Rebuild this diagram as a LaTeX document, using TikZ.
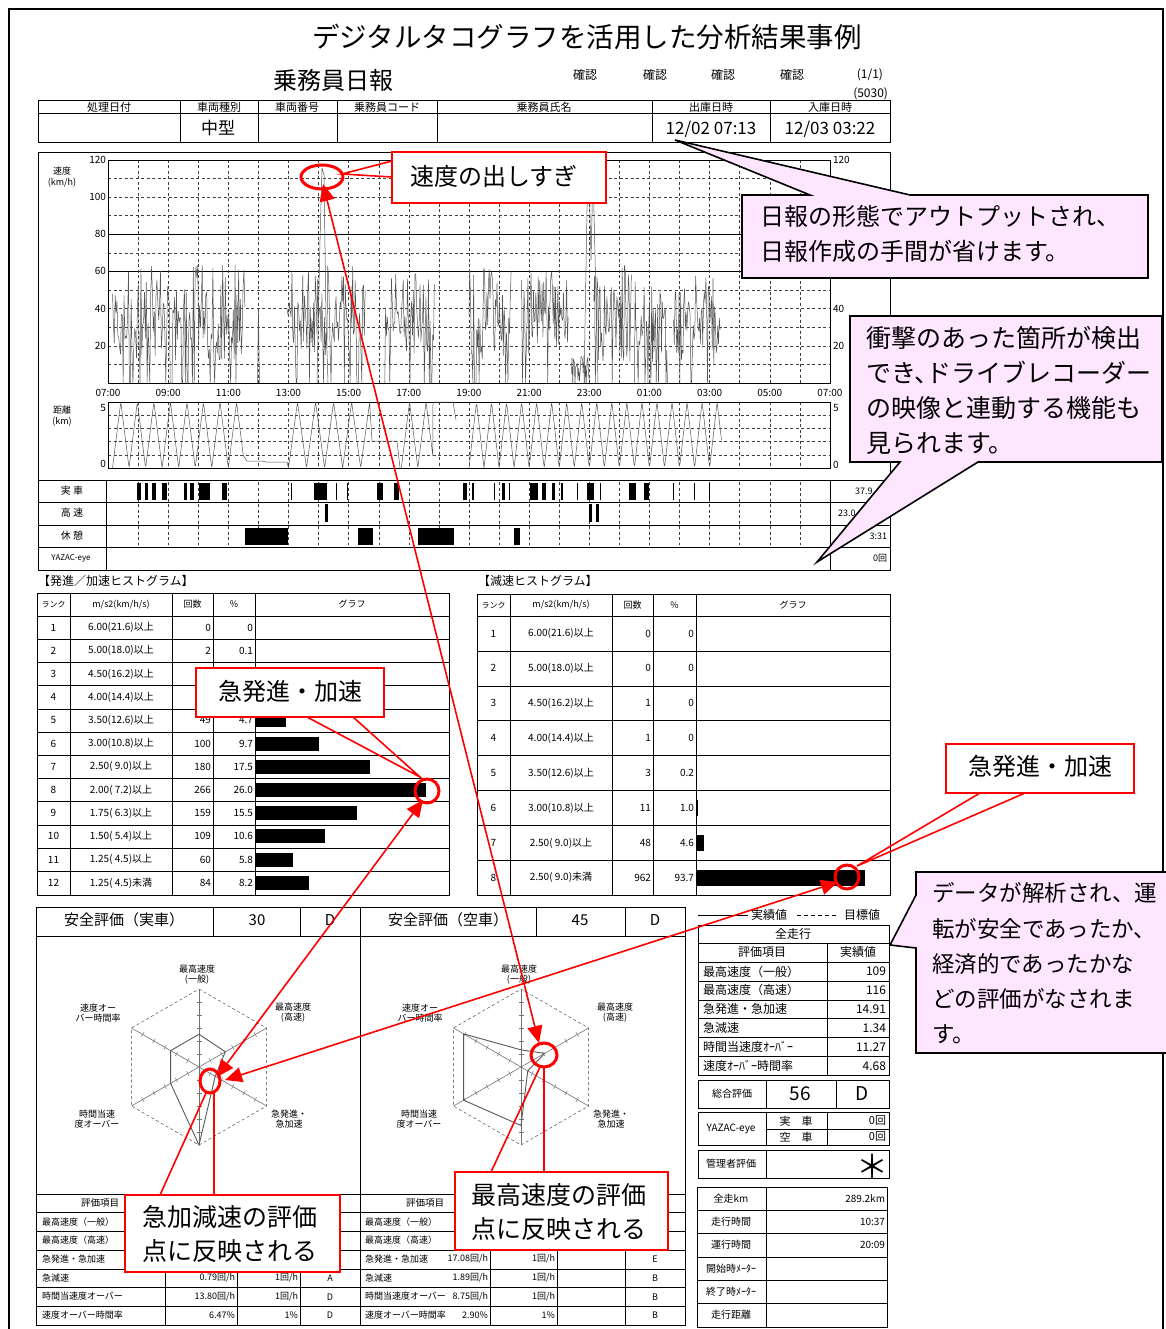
\documentclass[tikz,border=0pt]{standalone}
\usepackage{fontspec}
\setmainfont{Noto Sans CJK JP}
\usetikzlibrary{arrows.meta,calc}
\definecolor{pinkfill}{RGB}{255,230,255}
\definecolor{plotgray}{RGB}{85,85,85}
\newcommand{\myradar}[7]{%
  \begin{scope}[shift={(#1)}]
    \draw[gridd] (-90:78) -- (-30:78) -- (30:78) -- (90:78) -- (150:78) -- (210:78) -- cycle;
    \foreach \a in {-90,-30,30,90,150,210}{%
      \draw[draw=black!55,line width=0.6pt] (0,0) -- (\a:78);
      \foreach \k in {1,...,5}{%
        \draw[draw=black!55,line width=0.5pt] ([shift={({\a+90}:2.5)}]\a:{\k*13}) -- ([shift={({\a-90}:2.5)}]\a:{\k*13});
      }
    }
    \draw[draw=black!65,line width=0.9pt] (-90:{#2*78}) -- (-30:{#3*78}) -- (30:{#4*78}) -- (90:{#5*78}) -- (150:{#6*78}) -- (210:{#7*78}) -- cycle;
  \end{scope}}
\begin{document}
\begin{tikzpicture}[x=1pt,y=-1pt,
  every node/.style={inner sep=0pt,outer sep=0pt},
  fsz/.style={font=\fontsize{#1}{#1}\selectfont},
  frm/.style={draw=black,line width=0.9pt},
  thin/.style={draw=black,line width=0.5pt},
  gridd/.style={draw=black!75,line width=0.45pt,dash pattern=on 3pt off 2.5pt},
  spd/.style={draw=plotgray,line width=0.5pt,line join=round},
  redbox/.style={draw=red,line width=1.6pt,fill=white},
  redln/.style={draw=red,line width=1.6pt},
  redring/.style={draw=red,line width=3pt},
  pinkbox/.style={draw=black,line width=1.6pt,fill=pinkfill,line join=miter},
  dbl/.style={draw=red,line width=1.6pt,{Triangle[length=17pt,width=15pt]}-{Triangle[length=17pt,width=15pt]}},
]
\useasboundingbox (0,0) rectangle (1165,1329);
\fill[white] (0,0) rectangle (1165,1329);
\draw[line width=1.4pt] (9,1335) -- (9,9) -- (1163,9) -- (1163,1335);

% ---------- title and header ----------
\node[fsz=27.5] (title) at (587,37) {デジタルタコグラフを活用した分析結果事例};
\node[fsz=24] (nippo) at (333,80) {乗務員日報};
\foreach \x [count=\i] in {585,655,723,792} \node[fsz=12] (kak\i) at (\x,75) {確認};
\node[fsz=12,anchor=east] (page) at (883,75) {(1/1)};
\node[fsz=12,anchor=east] (code) at (888,94) {(5030)};

\draw[frm] (38,100) rectangle (890,142);
\draw[thin] (38,113) -- (890,113);
\foreach \x in {180,258,337,437,652,770} \draw[thin] (\x,100) -- (\x,142);
\foreach \x/\t [count=\i] in {109/処理日付,219/車両種別,297/車両番号,387/乗務員コード,544/乗務員氏名,711/出庫日時,830/入庫日時}
  \node[fsz=11] (hd\i) at (\x,107) {\t};
\node[fsz=17] (vtype) at (218,128) {中型};
\node[fsz=17] (dep) at (711,129) {12/02 07:13};
\node[fsz=17] (arr) at (830,129) {12/03 03:22};

% ---------- charts ----------
\draw[frm] (38,152) rectangle (890,570);
\foreach \v in {10,20,30,40,50,70,90,100,110} \draw[gridd] (108,{383-1.86*\v}) -- (830,{383-1.86*\v});
\foreach \v in {60,80} \draw[thin] (108,{383-1.86*\v}) -- (830,{383-1.86*\v});
\foreach \h in {1,...,23} \draw[gridd] ({108+30.08*\h},160) -- ({108+30.08*\h},383);
\draw[thin] (108,160) rectangle (830,383);
\node[fsz=9] (sl1) at (62,171) {速度};
\node[fsz=9] (sl2) at (62,183) {(km/h)};
\foreach \v [count=\i] in {120,100,80,60,40,20}{
  \node[fsz=10,anchor=east] (yl\i) at (106,{383-1.86*\v}) {\v};
  \node[fsz=10,anchor=west] (yr\i) at (833,{383-1.86*\v}) {\v};
}
\foreach \h/\t [count=\i] in {0/07:00,2/09:00,4/11:00,6/13:00,8/15:00,10/17:00,12/19:00,14/21:00,16/23:00,18/01:00,20/03:00,22/05:00,24/07:00}
  \node[fsz=10] (tm\i) at ({108+30.08*\h},393) {\t};
\pgfmathsetseed{11}
\foreach \a/\b/\n/\lo/\hi in {0.15/4.55/150/12/52,5.95/8.55/95/15/48,9.2/10.85/60/15/45,12.0/13.4/55/12/50,13.75/15.3/60/15/45,15.4/16.0/25/0/15,16.15/17.4/50/10/55,17.5/18.6/45/10/48,18.8/20.35/60/10/48}
  \draw[spd] plot[domain=\a:\b,samples=\n] ({108+30.08*\x},{383-1.86*(rnd<0.13 ? 0 : \lo+\hi*rnd)});
\draw[spd] (257.5,383) -- (258.4,309) -- (259.5,383);
\draw[spd] (317,383) -- (320,240) -- (322,168) -- (324,175) -- (326,320) -- (328,383);
\draw[spd] (584,383) -- (587,210) -- (589,170) -- (591,260) -- (593,168) -- (596,300) -- (598,383);
\foreach \k in {1,2,3,4} \draw[gridd] (108,{468-13.2*\k}) -- (830,{468-13.2*\k});
\foreach \h in {1,...,23} \draw[gridd] ({108+30.08*\h},402) -- ({108+30.08*\h},468);
\draw[thin] (108,402) rectangle (830,468);
\node[fsz=9] (dl1) at (62,410) {距離};
\node[fsz=9] (dl2) at (62,422) {(km)};
\node[fsz=10,anchor=east] (d5l) at (106,408) {5};
\node[fsz=10,anchor=east] (d0l) at (106,464) {0};
\node[fsz=10,anchor=west] (d5r) at (833,408) {5};
\node[fsz=10,anchor=west] (d0r) at (833,465) {0};
\draw[spd] plot[domain=0.15:4.5,samples=220] ({108+30.08*\x},{468-66*(1-abs(2*frac((\x-0.15)/0.55)-1))})
  -- (247,461) -- (262,461) -- (266,462) -- (287,462) -- (288.5,468);
\draw[spd] plot[domain=6.0:8.7,samples=160] ({108+30.08*\x},{468-66*(1-abs(2*frac((\x-6.0)/0.6)-1))})
  -- (372,441) -- (397,441) -- (400,468);
\draw[spd] plot[domain=9.75:10.8,samples=80] ({108+30.08*\x},{468-66*(1-abs(2*frac((\x-9.75)/0.55)-1))})
  -- (433,402) -- (453,402) -- (456,420);
\draw[spd] plot[domain=12.0:20.4,samples=420] ({108+30.08*\x},{468-66*(1-abs(2*frac((\x-12.0)/0.5)-1))});
\foreach \y in {480,502,525,547} \draw[thin] (38,\y) -- (890,\y);
\draw[thin] (106,480) -- (106,570);
\draw[thin] (830,480) -- (830,570);
\foreach \h in {1,...,23} \draw[gridd] ({108+30.08*\h},482) -- ({108+30.08*\h},545);
\node[fsz=10] (r1) at (72,491) {実 車};
\node[fsz=10] (r2) at (72,513) {高 速};
\node[fsz=10] (r3) at (72,536) {休 憩};
\node[fsz=8] (r4) at (71,558) {YAZAC-eye};
\foreach \p/\q in {137/141,145/148,152/156,162/167,184/187,190/194,199/210,222/227,290.5/291.7,314/327,335.5/336.7,346.5/347.7,377/383,394/399,463/467,472/474,493.5/494.7,502/505,508.5/509.7,530/538,542/546,552/555,561/563,576.5/577.7,587/594,599.5/600.7,629/636,644/649,672.5/673.7,693.5/694.7,708.5/709.7}
  \fill (\p,483) rectangle (\q,500);
\foreach \p/\q in {325/327.5,589/592,596/599} \fill (\p,504) rectangle (\q,522);
\foreach \p/\q in {245/288,358/373,418/454,514/520} \fill (\p,528) rectangle (\q,545);
\node[fsz=9,anchor=west] (v1) at (855,491) {37.9};
\node[fsz=9,anchor=west] (v2) at (838,513) {23.0};
\node[fsz=9,anchor=east] (v3) at (887,536) {3:31};
\node[fsz=9,anchor=east] (v4) at (887,558) {0回};

% ---------- acceleration histogram ----------
\node[fsz=12,anchor=west] (ht1) at (38,581) {【発進／加速ヒストグラム】};
\draw[frm] (37,593) rectangle (449,895);
\draw[thin] (37,616) -- (449,616);
\foreach \k in {1,...,11} \draw[thin] (37,{616+23.2*\k}) -- (449,{616+23.2*\k});
\foreach \x in {70,172,213,255} \draw[thin] (\x,593) -- (\x,895);
\node[fsz=8] (ah1) at (53.5,604.5) {ランク};
\node[fsz=9] (ah2) at (121,604.5) {m/s2(km/h/s)};
\node[fsz=9] (ah3) at (192.5,604.5) {回数};
\node[fsz=9] (ah4) at (234,604.5) {\%};
\node[fsz=9] (ah5) at (352,604.5) {グラフ};
\foreach \rk/\lab/\cnt/\pc/\bl [count=\i] in {1/6.00(21.6)以上/0/0/0,2/5.00(18.0)以上/2/0.1/0.12,3/4.50(16.2)以上/ / /0,4/4.00(14.4)以上/ / /0,5/3.50(12.6)以上/49/4.7/4.7,6/3.00(10.8)以上/100/9.7/9.7,7/2.50( 9.0)以上/180/17.5/17.5,8/2.00( 7.2)以上/266/26.0/26.0,9/1.75( 6.3)以上/159/15.5/15.5,10/1.50( 5.4)以上/109/10.6/10.6,11/1.25( 4.5)以上/60/5.8/5.8,12/1.25( 4.5)未満/84/8.2/8.2}{
  \pgfmathsetmacro\yc{616+(\i-0.5)*23.2}
  \node[fsz=10] (lr\i) at (53.5,\yc) {\rk};
  \node[fsz=10] (ll\i) at (121,\yc) {\lab};
  \node[fsz=10,anchor=east] (lc\i) at (211,\yc) {\cnt};
  \node[fsz=10,anchor=east] (lp\i) at (253,\yc) {\pc};
  \fill (255,{\yc-7}) rectangle ({255+6.58*\bl},{\yc+7});
}

% ---------- deceleration histogram ----------
\node[fsz=12,anchor=west] (ht2) at (478,581) {【減速ヒストグラム】};
\draw[frm] (477,594) rectangle (890,895);
\draw[thin] (477,616) -- (890,616);
\foreach \k in {1,...,7} \draw[thin] (477,{616+34.9*\k}) -- (890,{616+34.9*\k});
\foreach \x in {510,612,653,696} \draw[thin] (\x,594) -- (\x,895);
\node[fsz=8] (bh1) at (493.5,605) {ランク};
\node[fsz=9] (bh2) at (561,605) {m/s2(km/h/s)};
\node[fsz=9] (bh3) at (632.5,605) {回数};
\node[fsz=9] (bh4) at (674.5,605) {\%};
\node[fsz=9] (bh5) at (793,605) {グラフ};
\foreach \rk/\lab/\cnt/\pc/\bl [count=\i] in {1/6.00(21.6)以上/0/0/0,2/5.00(18.0)以上/0/0/0,3/4.50(16.2)以上/1/0/0,4/4.00(14.4)以上/1/0/0,5/3.50(12.6)以上/3/0.2/0,6/3.00(10.8)以上/11/1.0/1.0,7/2.50( 9.0)以上/48/4.6/4.6,8/2.50( 9.0)未満/962/93.7/93.7}{
  \pgfmathsetmacro\yc{616+(\i-0.5)*34.9}
  \node[fsz=10] (rr\i) at (493.5,\yc) {\rk};
  \node[fsz=10] (rl\i) at (561,\yc) {\lab};
  \node[fsz=10,anchor=east] (rc\i) at (651,\yc) {\cnt};
  \node[fsz=10,anchor=east] (rp\i) at (694,\yc) {\pc};
  \fill (696,{\yc-8}) rectangle ({696+1.8*\bl},{\yc+8});
}

% ---------- safety evaluation panels ----------
\draw[frm] (36,907) rectangle (685,1325);
\draw[thin] (36,936) -- (685,936);
\draw[thin] (360,907) -- (360,1325);
\foreach \x in {213,300,536,625} \draw[thin] (\x,907) -- (\x,936);
\node[fsz=15] (s1) at (124,920) {安全評価（実車）};
\node[fsz=15] (s2) at (257,920) {30};
\node[fsz=15] (s3) at (330,920) {D};
\node[fsz=15] (s4) at (448,920) {安全評価（空車）};
\node[fsz=15] (s5) at (580,920) {45};
\node[fsz=15] (s6) at (655,920) {D};
\myradar{199,1067}{0.42}{0.39}{0.24}{1.0}{0.42}{0.42}
\myradar{521,1067}{0.22}{0.35}{0.1}{0.75}{0.85}{0.85}
\foreach \dx/\p in {0/L,322/R}{
  \node[align=center,font=\fontsize{9}{10}\selectfont] (ra1\p) at ({197+\dx},975) {最高速度\\(一般)};
  \node[align=center,font=\fontsize{9}{10}\selectfont] (ra2\p) at ({293+\dx},1013) {最高速度\\(高速)};
  \node[align=center,font=\fontsize{9}{10}\selectfont] (ra3\p) at ({98+\dx},1013) {速度オー\\バー時間率};
  \node[align=center,font=\fontsize{9}{10}\selectfont] (ra4\p) at ({97+\dx},1119) {時間当速\\度オーバー};
  \node[align=center,font=\fontsize{9}{10}\selectfont] (ra5\p) at ({289+\dx},1119) {急発進・\\急加速};
}
\draw[thin] (36,1194) -- (685,1194);
\foreach \k in {1,...,6} \draw[thin] (36,{1194+18.7*\k}) -- (685,{1194+18.7*\k});
\foreach \x in {165,237,300,490,557,625} \draw[thin] (\x,1194) -- (\x,1325);
\node[fsz=9.5] (e0) at (100,1203) {評価項目};
\node[fsz=9.5] (f0) at (425,1203) {評価項目};
\foreach \t [count=\i] in {最高速度（一般）,最高速度（高速）,急発進・急加速,急減速,時間当速度オーバー,速度オーバー時間率}{
  \node[fsz=9,anchor=west] (e\i) at (42,{1203+18.7*\i}) {\t};
  \node[fsz=9,anchor=west] (f\i) at (365,{1203+18.7*\i}) {\t};
}
\node[fsz=9,anchor=east] (e4a) at (235,1278) {0.79回/h};
\node[fsz=9,anchor=east] (e4b) at (298,1278) {1回/h};
\node[fsz=9] (e4c) at (330,1278) {A};
\node[fsz=9,anchor=east] (e5a) at (235,1297) {13.80回/h};
\node[fsz=9,anchor=east] (e5b) at (298,1297) {1回/h};
\node[fsz=9] (e5c) at (330,1297) {D};
\node[fsz=9,anchor=east] (e6a) at (235,1315) {6.47\%};
\node[fsz=9,anchor=east] (e6b) at (298,1315) {1\%};
\node[fsz=9] (e6c) at (330,1315) {D};
\node[fsz=9,anchor=east] (f3a) at (488,1259) {17.08回/h};
\node[fsz=9,anchor=east] (f3b) at (555,1259) {1回/h};
\node[fsz=9] (f3c) at (655,1259) {E};
\node[fsz=9,anchor=east] (f4a) at (488,1278) {1.89回/h};
\node[fsz=9,anchor=east] (f4b) at (555,1278) {1回/h};
\node[fsz=9] (f4c) at (655,1278) {B};
\node[fsz=9,anchor=east] (f5a) at (488,1297) {8.75回/h};
\node[fsz=9,anchor=east] (f5b) at (555,1297) {1回/h};
\node[fsz=9] (f5c) at (655,1297) {B};
\node[fsz=9,anchor=east] (f6a) at (488,1315) {2.90\%};
\node[fsz=9,anchor=east] (f6b) at (555,1315) {1\%};
\node[fsz=9] (f6c) at (655,1315) {B};

% ---------- summary panel ----------
\draw[thin] (698,915) -- (748,915);
\node[fsz=12] (lg1) at (769,915) {実績値};
\draw[thin,dash pattern=on 4pt off 3pt] (797,915) -- (837,915);
\node[fsz=12] (lg2) at (862,915) {目標値};
\draw[frm] (698,925) rectangle (889,1075);
\foreach \y in {943,962,981,1000,1018,1037,1056} \draw[thin] (698,\y) -- (889,\y);
\draw[thin] (827,943) -- (827,1075);
\node[fsz=12] (zt) at (793,934) {全走行};
\node[fsz=12] (zh1) at (762,952) {評価項目};
\node[fsz=12] (zh2) at (858,952) {実績値};
\foreach \t/\v [count=\i] in {最高速度（一般）/109,最高速度（高速）/116,急発進・急加速/14.91,急減速/1.34,時間当速度ｵｰﾊﾞｰ/11.27,速度ｵｰﾊﾞｰ時間率/4.68}{
  \node[fsz=12,anchor=west] (zr\i) at (703,{971.5+18.9*(\i-1)}) {\t};
  \node[fsz=12,anchor=east] (zv\i) at (886,{971.5+18.9*(\i-1)}) {\v};
}
\draw[frm] (698,1080) rectangle (889,1108);
\foreach \x in {766,836} \draw[thin] (\x,1080) -- (\x,1108);
\node[fsz=10] (tot1) at (732,1094) {総合評価};
\node[fsz=19] (tot2) at (800,1094) {56};
\node[fsz=19] (tot3) at (862,1094) {D};
\draw[frm] (698,1112) rectangle (889,1145);
\foreach \x in {766,827} \draw[thin] (\x,1112) -- (\x,1145);
\draw[thin] (766,1129) -- (889,1129);
\node[fsz=10] (ye1) at (731,1129) {YAZAC-eye};
\node[fsz=11] (ye2) at (796,1121) {実　車};
\node[fsz=11] (ye3) at (796,1137) {空　車};
\node[fsz=11,anchor=east] (ye4) at (886,1121) {0回};
\node[fsz=11,anchor=east] (ye5) at (886,1137) {0回};
\draw[frm] (698,1150) rectangle (889,1178);
\draw[thin] (766,1150) -- (766,1178);
\node[fsz=10] (mg1) at (731,1164) {管理者評価};
\node[fsz=32] (mg2) at (872,1166) {＊};
\draw[frm] (697,1187) rectangle (887,1327);
\draw[thin] (766,1187) -- (766,1327);
\foreach \k in {1,...,5} \draw[thin] (697,{1187+23.3*\k}) -- (887,{1187+23.3*\k});
\foreach \t [count=\i] in {全走km,走行時間,運行時間,開始時ﾒｰﾀｰ,終了時ﾒｰﾀｰ,走行距離}
  \node[fsz=10] (bt\i) at (731,{1198.5+23.3*(\i-1)}) {\t};
\node[fsz=10,anchor=east] (bv1) at (885,1198.5) {289.2km};
\node[fsz=10,anchor=east] (bv2) at (885,1221.8) {10:37};
\node[fsz=10,anchor=east] (bv3) at (885,1245.1) {20:09};

% ---------- pink callouts ----------
\draw[pinkbox] (742,195) -- (810,195) -- (675,140) -- (910,195) -- (1148,195) -- (1148,278) -- (742,278) -- cycle;
\node[fsz=24,anchor=west] (pa1) at (760,216) {日報の形態でアウトプットされ、};
\node[fsz=24,anchor=west] (pa2) at (760,251) {日報作成の手間が省けます。};
\draw[pinkbox] (850,316) -- (1162,316) -- (1162,462) -- (978,462) -- (817,562) -- (900,462) -- (850,462) -- cycle;
\node[fsz=25,anchor=west] (pb1) at (866,338) {衝撃のあった箇所が検出};
\node[fsz=25,anchor=west] (pb2) at (866,373) {でき、\kern-.5em ドライブレコーダー};
\node[fsz=25,anchor=west] (pb3) at (866,408) {の映像と連動する機能も};
\node[fsz=25,anchor=west] (pb4) at (866,443) {見られます。};
\draw[pinkbox] (916,872) -- (1180,872) -- (1180,1053) -- (916,1053) -- (916,948) -- (890,945) -- (916,895) -- cycle;
\node[fsz=22.5,anchor=west] (pc1) at (932,893) {データが解析され、運};
\node[fsz=22.5,anchor=west] (pc2) at (932,929) {転が安全であったか、};
\node[fsz=22.5,anchor=west] (pc3) at (932,964) {経済的であったかな};
\node[fsz=22.5,anchor=west] (pc4) at (932,999) {どの評価がなされま};
\node[fsz=22.5,anchor=west] (pc5) at (932,1034) {す。};

% ---------- red callouts ----------
\draw[redring] (322,177) ellipse [x radius=21,y radius=12];
\draw[redring] (427,791) circle [radius=12];
\draw[redring] (847,877) circle [radius=12];
\draw[redring] (210,1081) ellipse [x radius=10,y radius=12];
\draw[redring] (544,1055) ellipse [x radius=13,y radius=12];

\draw[redln] (392,161) -- (342,174) -- (392,177);
\draw[redbox] (392,152) rectangle (606,203);
\node[fsz=24] (c1) at (494,176) {速度の出しすぎ};

\draw[redln] (307,717) -- (420,777) -- (353,717);
\draw[redbox] (196,668) rectangle (384,717);
\node[fsz=24] (c2) at (290,691) {急発進・加速};

\draw[redln] (980,793) -- (857,866) -- (1025,793);
\draw[redbox] (946,744) rectangle (1134,793);
\node[fsz=24] (c3) at (1040,766) {急発進・加速};

\draw[redln] (160,1195) -- (206,1093);
\draw[redln] (214,1195) -- (214,1093);
\draw[redbox] (125,1195) rectangle (340,1272);
\node[fsz=25,anchor=west] (c4a) at (142,1217) {急加減速の評価};
\node[fsz=25,anchor=west] (c4b) at (142,1251) {点に反映される};

\draw[redln] (491,1172) -- (540,1067);
\draw[redln] (544,1172) -- (544,1067);
\draw[redbox] (455,1172) rectangle (668,1250);
\node[fsz=25,anchor=west] (c5a) at (471,1195) {最高速度の評価};
\node[fsz=25,anchor=west] (c5b) at (471,1229) {点に反映される};

\coordinate (topmark) at (323,184);
\coordinate (spdpt) at (539,1043);
\coordinate (histL) at (423,800);
\coordinate (histR) at (838,882);
\coordinate (accA) at (217,1077);
\coordinate (accB) at (225,1080);
\draw[dbl] (topmark) -- (spdpt);
\draw[dbl] (histL) -- (accA);
\draw[dbl] (histR) -- (accB);
\end{tikzpicture}
\end{document}
